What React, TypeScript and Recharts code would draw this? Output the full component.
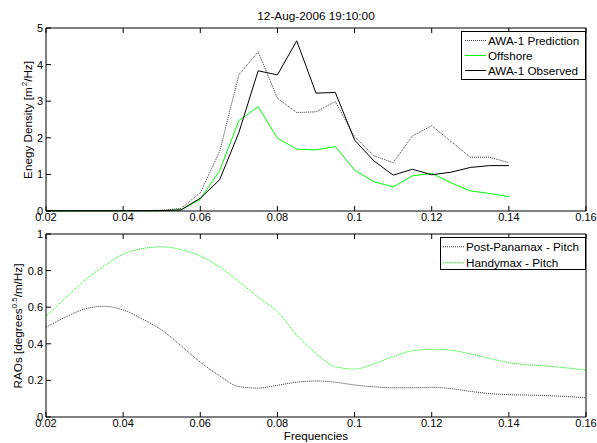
import React from 'react';
import { LineChart, Line, XAxis, YAxis, Legend } from 'recharts';

// ---------- data ----------
const freqTop = [0.02, 0.025, 0.03, 0.035, 0.04, 0.045, 0.05, 0.055, 0.06, 0.065, 0.07, 0.075, 0.08, 0.085, 0.09, 0.095, 0.1, 0.105, 0.11, 0.115, 0.12, 0.125, 0.13, 0.135, 0.14];
const awaPrediction = [0.01, 0.01, 0.01, 0.01, 0.01, 0.01, 0.02, 0.07, 0.5, 1.62, 3.72, 4.35, 3.08, 2.69, 2.71, 2.99, 2.03, 1.51, 1.32, 2.05, 2.33, 1.9, 1.47, 1.47, 1.32];
const offshore = [0, 0, 0.005, 0.005, 0.005, 0.01, 0.01, 0.03, 0.32, 1.1, 2.47, 2.85, 1.99, 1.69, 1.67, 1.76, 1.12, 0.8, 0.66, 0.96, 1.03, 0.77, 0.55, 0.48, 0.39];
const awaObserved = [0.01, 0.01, 0.01, 0.01, 0.01, 0.01, 0.01, 0.03, 0.35, 0.85, 2.14, 3.83, 3.72, 4.65, 3.22, 3.24, 1.94, 1.37, 0.98, 1.14, 0.99, 1.06, 1.19, 1.24, 1.24];

const freqBottom = [0.02, 0.025, 0.03, 0.035, 0.04, 0.045, 0.05, 0.055, 0.06, 0.065, 0.07, 0.075, 0.08, 0.085, 0.09, 0.095, 0.1, 0.105, 0.11, 0.115, 0.12, 0.125, 0.13, 0.135, 0.14, 0.145, 0.15, 0.155, 0.16];
const postPanamaxPitch = [0.49, 0.545, 0.59, 0.605, 0.585, 0.535, 0.475, 0.39, 0.3, 0.225, 0.166, 0.158, 0.173, 0.19, 0.197, 0.19, 0.175, 0.165, 0.16, 0.16, 0.162, 0.155, 0.14, 0.128, 0.122, 0.12, 0.117, 0.112, 0.105];
const handymaxPitch = [0.55, 0.65, 0.745, 0.825, 0.89, 0.92, 0.93, 0.915, 0.88, 0.82, 0.74, 0.655, 0.575, 0.448, 0.348, 0.275, 0.262, 0.29, 0.33, 0.362, 0.37, 0.365, 0.345, 0.32, 0.297, 0.285, 0.278, 0.268, 0.257];

const xTicks = [0.02, 0.04, 0.06, 0.08, 0.1, 0.12, 0.14, 0.16];
const yTicksTop = [0, 1, 2, 3, 4, 5];
const yTicksBottom = [0, 0.2, 0.4, 0.6, 0.8, 1];

const titleText = '12-Aug-2006 19:10:00';
const xLabelText = 'Frequencies';

const topData = freqTop.map((f, i) => ({ f, pred: awaPrediction[i], off: offshore[i], obs: awaObserved[i] }));
const bottomData = freqBottom.map((f, i) => ({ f, pp: postPanamaxPitch[i], hm: handymaxPitch[i] }));

// ---------- styling ----------
const FONT = '"Liberation Sans", Arial, Helvetica, sans-serif';
const TICK_LEN = 5;
const GREEN = '#00ff00';
const DOT_GREY = '#333';
const dashMap: Record<string, string | undefined> = {
  pred: '1 1',
  off: undefined,
  obs: undefined,
  pp: '1 1',
  hm: '1 1',
};
const legendOrder: Record<string, number> = { pred: 0, off: 1, obs: 2, pp: 0, hm: 1 };

const AxisTick = (props: any) => {
  const { x, y, payload, side, label } = props;
  let line;
  let text = null;
  if (side === 'bottom') {
    line = <line x1={x} y1={y} x2={x} y2={y - TICK_LEN} stroke="#000" />;
    if (label)
      text = (
        <text x={x} y={y + 2} dy="0.71em" textAnchor="middle" fontSize={11} fontFamily={FONT} fill="#000">
          {String(payload.value)}
        </text>
      );
  } else if (side === 'top') {
    line = <line x1={x} y1={y} x2={x} y2={y + TICK_LEN} stroke="#000" />;
  } else if (side === 'left') {
    line = <line x1={x} y1={y} x2={x + TICK_LEN} y2={y} stroke="#000" />;
    if (label)
      text = (
        <text x={x - 3} y={y} dy="0.355em" textAnchor="end" fontSize={11} fontFamily={FONT} fill="#000">
          {String(payload.value)}
        </text>
      );
  } else {
    line = <line x1={x} y1={y} x2={x - TICK_LEN} y2={y} stroke="#000" />;
  }
  return (
    <g>
      {line}
      {text}
    </g>
  );
};

const makeLegend = (rowH: number, lineStart: number, lineLen: number, gap: number) => (props: any) => {
  const payload = [...(props.payload || [])].sort(
    (a: any, b: any) => (legendOrder[a.dataKey] ?? 0) - (legendOrder[b.dataKey] ?? 0)
  );
  return (
    <div
      style={{
        border: '1px solid #000',
        background: '#fff',
        boxSizing: 'border-box',
        width: '100%',
        height: '100%',
        paddingTop: 1,
        fontFamily: FONT,
        fontSize: 11.7,
        color: '#000',
      }}
    >
      {payload.map((e: any) => (
        <div key={e.value} style={{ height: rowH, display: 'flex', alignItems: 'center', whiteSpace: 'nowrap' }}>
          <svg width={lineStart + lineLen + gap} height={rowH} style={{ flex: 'none' }}>
            <line
              x1={lineStart}
              x2={lineStart + lineLen}
              y1={rowH / 2}
              y2={rowH / 2}
              stroke={e.color}
              strokeWidth={1}
              strokeDasharray={dashMap[e.dataKey as string]}
            />
          </svg>
          <span style={{ lineHeight: `${rowH}px` }}>{e.value}</span>
        </div>
      ))}
    </div>
  );
};

const TopLegend = makeLegend(15, 3, 21, 2);
const BottomLegend = makeLegend(15.5, 2, 21, 2);

export default function App() {
  return (
    <div style={{ position: 'absolute', left: 0, top: 0, width: 597, height: 443, background: '#fff', fontFamily: FONT, overflow: 'hidden' }}>
      {/* title */}
      <div style={{ position: 'absolute', left: 316, top: 9, transform: 'translateX(-50%)', fontSize: 11.8, lineHeight: '14px', whiteSpace: 'nowrap', color: '#000' }}>
        {titleText}
      </div>

      {/* top chart */}
      <div style={{ position: 'absolute', left: 0, top: 0 }}>
        <LineChart width={597} height={230} data={topData} margin={{ top: 27, right: 10, bottom: 0, left: 0 }}>
          <XAxis
            dataKey="f"
            type="number"
            domain={[0.02, 0.16]}
            ticks={xTicks}
            interval={0}
            height={19}
            tickSize={0}
            tickMargin={0}
            tickLine={false}
            axisLine={{ stroke: '#000' }}
            tick={(p: any) => <AxisTick {...p} side="bottom" label />}
          />
          <XAxis
            xAxisId="top"
            orientation="top"
            dataKey="f"
            type="number"
            domain={[0.02, 0.16]}
            ticks={xTicks}
            interval={0}
            height={1}
            tickSize={0}
            tickMargin={0}
            tickLine={false}
            axisLine={{ stroke: '#000' }}
            tick={(p: any) => <AxisTick {...p} side="top" />}
          />
          <YAxis
            type="number"
            domain={[0, 5]}
            ticks={yTicksTop}
            interval={0}
            width={46}
            tickSize={0}
            tickMargin={0}
            tickLine={false}
            axisLine={{ stroke: '#000' }}
            tick={(p: any) => <AxisTick {...p} side="left" label />}
          />
          <YAxis
            yAxisId="right"
            orientation="right"
            type="number"
            domain={[0, 5]}
            ticks={yTicksTop}
            interval={0}
            width={1}
            tickSize={0}
            tickMargin={0}
            tickLine={false}
            axisLine={{ stroke: '#000' }}
            tick={(p: any) => <AxisTick {...p} side="right" />}
          />
          <Line dataKey="pred" name="AWA-1 Prediction" stroke={DOT_GREY} strokeDasharray={dashMap.pred} strokeWidth={1} dot={false} activeDot={false} isAnimationActive={false} />
          <Line dataKey="off" name="Offshore" stroke={GREEN} strokeWidth={1} dot={false} activeDot={false} isAnimationActive={false} />
          <Line dataKey="obs" name="AWA-1 Observed" stroke="#000" strokeWidth={1} dot={false} activeDot={false} isAnimationActive={false} />
          <Legend
            layout="horizontal"
            verticalAlign="middle"
            align="center"
            content={TopLegend}
            wrapperStyle={{ left: 461, top: 31, width: 125, height: 49 }}
          />
        </LineChart>
      </div>

      {/* bottom chart */}
      <div style={{ position: 'absolute', left: 0, top: 220 }}>
        <LineChart width={597} height={223} data={bottomData} margin={{ top: 13, right: 10, bottom: 0, left: 0 }}>
          <XAxis
            dataKey="f"
            type="number"
            domain={[0.02, 0.16]}
            ticks={xTicks}
            interval={0}
            height={26}
            tickSize={0}
            tickMargin={0}
            tickLine={false}
            axisLine={{ stroke: '#000' }}
            tick={(p: any) => <AxisTick {...p} side="bottom" label />}
          />
          <XAxis
            xAxisId="top"
            orientation="top"
            dataKey="f"
            type="number"
            domain={[0.02, 0.16]}
            ticks={xTicks}
            interval={0}
            height={1}
            tickSize={0}
            tickMargin={0}
            tickLine={false}
            axisLine={{ stroke: '#000' }}
            tick={(p: any) => <AxisTick {...p} side="top" />}
          />
          <YAxis
            type="number"
            domain={[0, 1]}
            ticks={yTicksBottom}
            interval={0}
            width={46}
            tickSize={0}
            tickMargin={0}
            tickLine={false}
            axisLine={{ stroke: '#000' }}
            tick={(p: any) => <AxisTick {...p} side="left" label />}
          />
          <YAxis
            yAxisId="right"
            orientation="right"
            type="number"
            domain={[0, 1]}
            ticks={yTicksBottom}
            interval={0}
            width={1}
            tickSize={0}
            tickMargin={0}
            tickLine={false}
            axisLine={{ stroke: '#000' }}
            tick={(p: any) => <AxisTick {...p} side="right" />}
          />
          <Line type="monotone" dataKey="pp" name="Post-Panamax - Pitch" stroke={DOT_GREY} strokeDasharray={dashMap.pp} strokeWidth={1} dot={false} activeDot={false} isAnimationActive={false} />
          <Line type="monotone" dataKey="hm" name="Handymax - Pitch" stroke={GREEN} strokeDasharray={dashMap.hm} strokeWidth={1} dot={false} activeDot={false} isAnimationActive={false} />
          <Legend
            layout="horizontal"
            verticalAlign="middle"
            align="center"
            content={BottomLegend}
            wrapperStyle={{ left: 440, top: 17, width: 146, height: 33 }}
          />
        </LineChart>
      </div>

      {/* y labels */}
      <div style={{ position: 'absolute', left: 28.5, top: 120, transform: 'translate(-50%, -50%) rotate(-90deg)', fontSize: 11.7, lineHeight: '14px', whiteSpace: 'nowrap', color: '#000' }}>
        Enegy Density [m<span style={{ fontSize: 8, position: 'relative', top: -5, marginLeft: 1 }}>2</span>/Hz]
      </div>
      <div style={{ position: 'absolute', left: 18.7, top: 326, transform: 'translate(-50%, -50%) rotate(-90deg)', fontSize: 11.7, lineHeight: '14px', whiteSpace: 'nowrap', color: '#000' }}>
        RAOs [degrees<span style={{ fontSize: 8, position: 'relative', top: -5 }}>0.5</span>/m/Hz]
      </div>

      {/* x label */}
      <div style={{ position: 'absolute', left: 316, top: 429, transform: 'translateX(-50%)', fontSize: 11.7, lineHeight: '14px', whiteSpace: 'nowrap', color: '#000' }}>
        {xLabelText}
      </div>
    </div>
  );
}
